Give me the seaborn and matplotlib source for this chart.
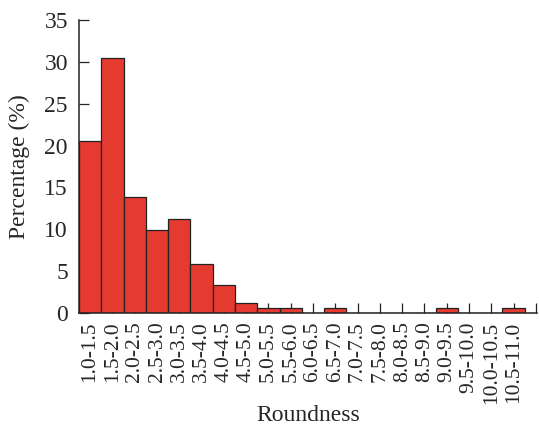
import pandas as pd
import matplotlib
matplotlib.use("Agg")
import matplotlib.pyplot as plt
import seaborn as sns

# data
bins = ["1.0-1.5", "1.5-2.0", "2.0-2.5", "2.5-3.0", "3.0-3.5", "3.5-4.0",
        "4.0-4.5", "4.5-5.0", "5.0-5.5", "5.5-6.0", "6.0-6.5", "6.5-7.0",
        "7.0-7.5", "7.5-8.0", "8.0-8.5", "8.5-9.0", "9.0-9.5", "9.5-10.0",
        "10.0-10.5", "10.5-11.0"]
percent = [20.5, 30.5, 13.9, 9.9, 11.2, 5.9, 3.3, 1.2, 0.6, 0.6,
           0.0, 0.6, 0.0, 0.0, 0.0, 0.0, 0.6, 0.0, 0.0, 0.6]
yticks = [0, 5, 10, 15, 20, 25, 30, 35]

df = pd.DataFrame({"Roundness": bins, "Percentage": percent})

sns.set_style("ticks")
plt.rcParams["font.family"] = ["Liberation Serif", "DejaVu Serif"]

fig = plt.figure(figsize=(5.39, 4.29), dpi=100)
ax = fig.add_axes([0.1466, 0.2704, 0.8497, 0.6826])

sns.barplot(data=df, x="Roundness", y="Percentage", color="#e53a30",
            saturation=1, width=1.0, edgecolor="#222222", linewidth=0.9, ax=ax)

ax.set_xlim(-0.5, 20.05)
ax.set_ylim(0, 35)
ax.set_yticks(yticks)
ax.set_xticks(range(len(bins)))
ax.set_xticklabels(bins, rotation=90, fontsize=15.5)
ax.set_xticks([20], minor=True)
ax.tick_params(axis="x", which="both", direction="in", length=7, width=0.9,
               color="#222222", pad=6)
ax.tick_params(axis="y", direction="in", length=7, width=0.9, labelsize=17, pad=8)
ax.yaxis.set_zorder(0.5)

for side in ["top", "right"]:
    ax.spines[side].set_visible(False)
for side in ["left", "bottom"]:
    ax.spines[side].set_linewidth(1.1)
    ax.spines[side].set_color("#222222")

ax.set_xlabel("Roundness", fontsize=17, labelpad=1)
ax.set_ylabel("Percentage (%)", fontsize=17, labelpad=10)

fig.savefig("out.png", dpi=100)
